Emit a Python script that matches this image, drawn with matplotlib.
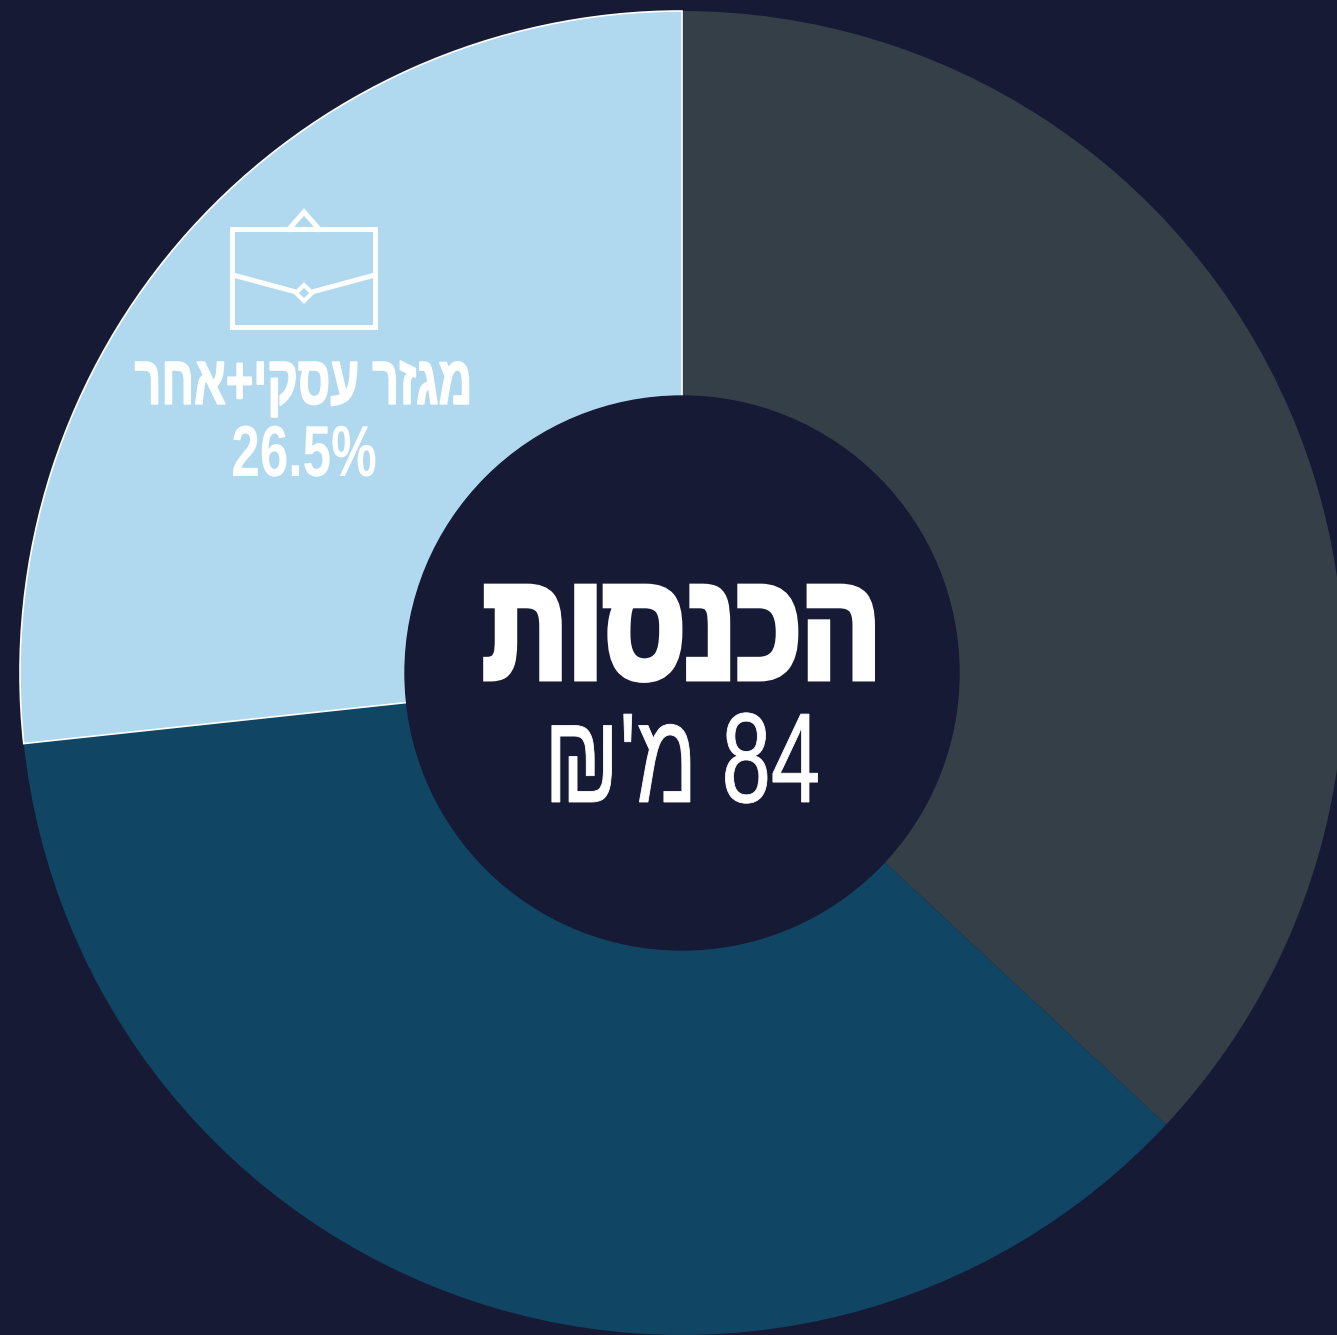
import matplotlib
matplotlib.use('Agg')
from matplotlib import pyplot as plt
from matplotlib.patches import Circle, Polygon, Rectangle
from matplotlib.patheffects import AbstractPathEffect
from matplotlib.transforms import Affine2D

BG = '#161a34'
W, H = 1337, 1335

values = [36.95, 36.35, 26.7]
colors = ['#343f48', '#104564', '#b0d9ef']
edges = ['none', 'none', 'white']

title = 'הכנסות'
amount = '84'
unit = "מ'"
shekel = '₪'
segment = 'מגזר עסקי+אחר'
segment_value = '26.5%'


def visual(s):
    # matplotlib has no bidi, so hebrew goes in reversed
    return s[::-1]


class Squeeze(AbstractPathEffect):
    '''condense a text around x = cx (pixels), optional stroke for weight'''

    def __init__(self, sx, cx, stroke=0):
        super().__init__()
        self.sx = sx
        self.cx = cx
        self.stroke = stroke

    def draw_path(self, renderer, gc, tpath, affine, rgbFace=None):
        t = affine + Affine2D().translate(-self.cx, 0).scale(self.sx, 1).translate(self.cx, 0)
        gc0 = renderer.new_gc()
        gc0.copy_properties(gc)
        gc0.set_linewidth(self.stroke)
        gc0.set_foreground('white')
        gc0.set_joinstyle('miter')
        renderer.draw_path(gc0, tpath, t, rgbFace)
        gc0.restore()


plt.rcParams['font.family'] = ['Liberation Sans', 'DejaVu Sans']

fig = plt.figure(figsize=(W / 100, H / 100), dpi=100, facecolor=BG)

# pie axes centred on (682, 673), radius 662
R = 662
pie_ax = fig.add_axes([(682 - R) / W, 1 - (673 + R) / H, 2 * R / W, 2 * R / H])
pie_ax.patch.set_alpha(0)
wedges, _ = pie_ax.pie(values, colors=colors, startangle=90, counterclock=False,
                       radius=1, frame=False)
pie_ax.set_xlim(-1, 1)
pie_ax.set_ylim(-1, 1)
for w, e in zip(wedges, edges):
    w.set_edgecolor(e)
    w.set_linewidth(1.2 if e != 'none' else 0)
    w.set_clip_on(False)
pie_ax.add_patch(Circle((0, 0), 277 / R, color=BG, zorder=5))

over = fig.add_axes([0, 0, 1, 1])
over.set_xlim(0, W)
over.set_ylim(H, 0)
over.axis('off')
over.patch.set_alpha(0)

# briefcase icon
lw = 3.6
over.add_patch(Rectangle((232, 229), 143, 98, fill=False, ec='white', lw=lw))
over.plot([289, 304, 319], [229, 212, 229], color='white', lw=lw, solid_joinstyle='miter')
over.plot([233, 296], [275, 292], color='white', lw=lw, solid_capstyle='butt')
over.plot([312, 375], [292, 275], color='white', lw=lw, solid_capstyle='butt')
over.add_patch(Polygon([(304, 285), (312, 293), (304, 301), (296, 293)], fill=False,
                       ec='white', lw=3))


def label(x, y, s, size, sx, bold=True, stroke=0):
    over.text(x, y, s, color='white', fontsize=size, ha='center', va='baseline',
              fontweight='bold' if bold else 'normal',
              path_effects=[Squeeze(sx, x, stroke)])


label(303.5, 404, visual(segment), 50, 0.672, stroke=1)
label(304, 476, segment_value, 52, 0.71)
label(682, 678, visual(title), 108, 0.785, stroke=5)
label(682, 802, shekel + visual(unit) + ' ' + amount, 92, 0.693, bold=False, stroke=0.6)

fig.savefig('out.png', dpi=100, facecolor=BG)
